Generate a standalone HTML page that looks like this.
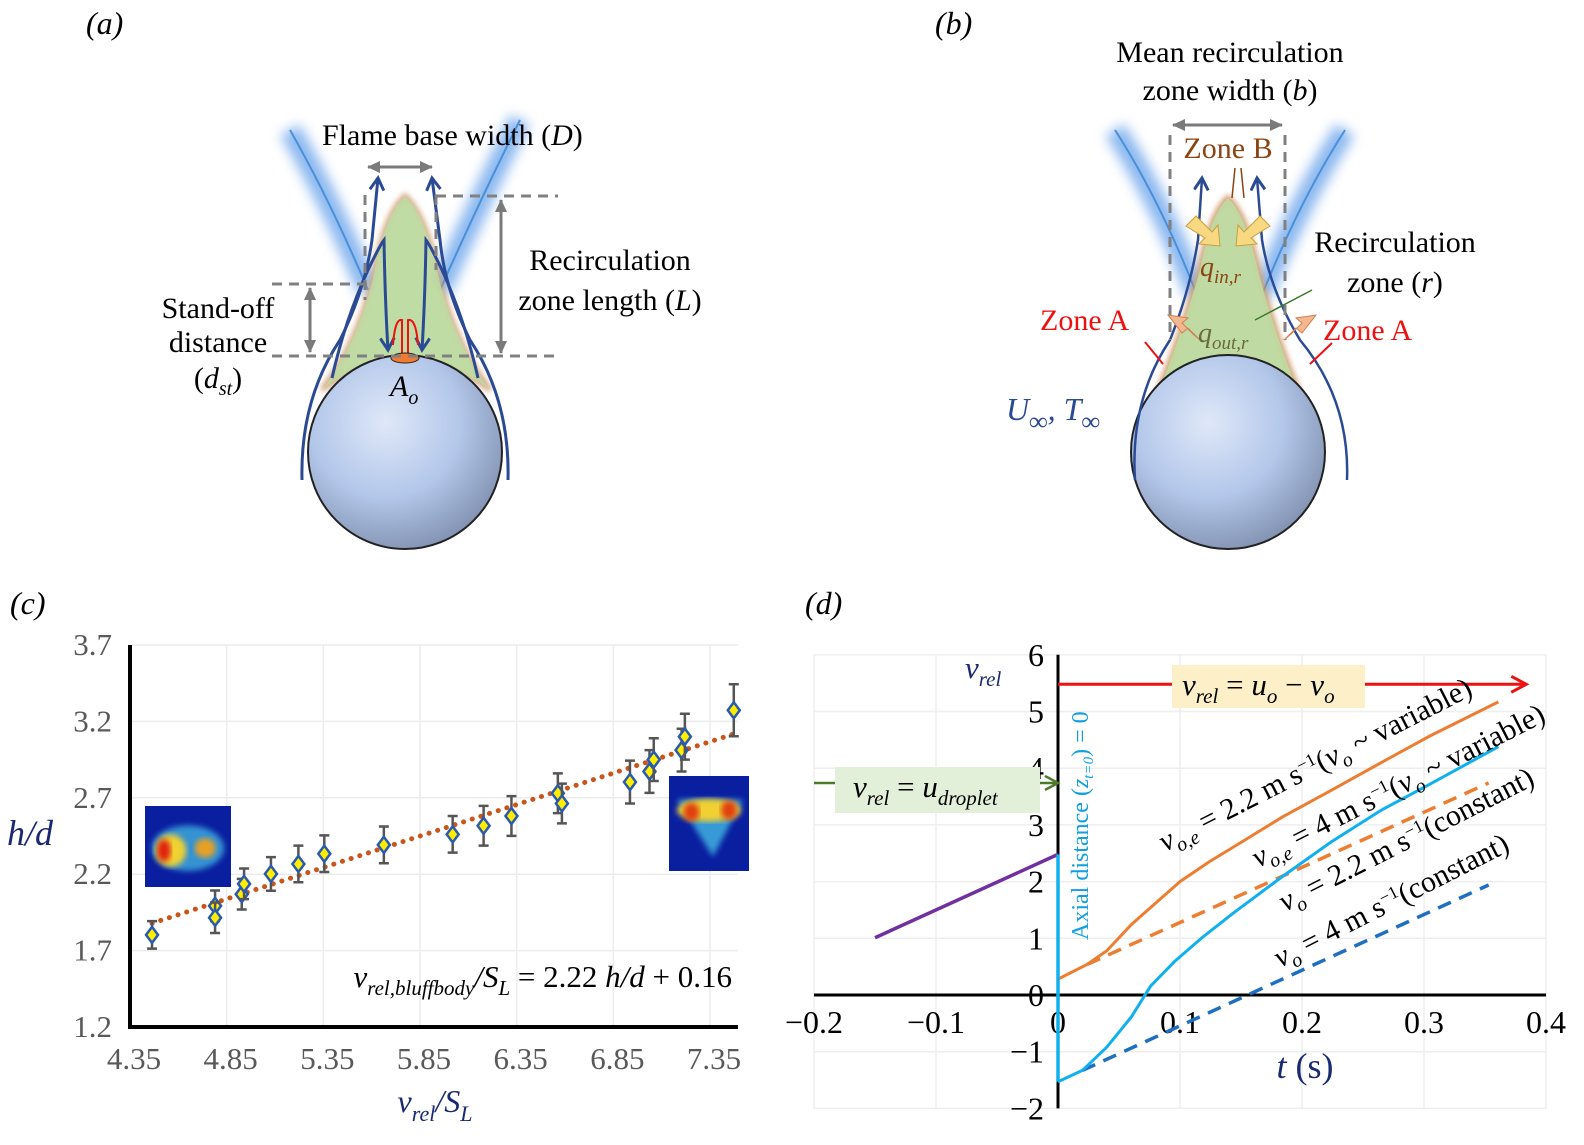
<!DOCTYPE html>
<html><head><meta charset="utf-8"><style>
body{margin:0;background:#fff;}
svg{display:block;}
svg text{font-family:"Liberation Serif","Times New Roman",serif;}
.it{font-style:italic}
</style></head><body>
<svg id="fig" width="1584" height="1145" viewBox="0 0 1584 1145" font-family="Liberation Serif, serif">
<defs>
<radialGradient id="sph" cx="0.4" cy="0.35" r="0.7">
<stop offset="0" stop-color="#dfe8f8"/><stop offset="0.55" stop-color="#b3c7ea"/><stop offset="1" stop-color="#7f8fae"/></radialGradient>
<filter id="blur" x="-50%" y="-50%" width="200%" height="200%"><feGaussianBlur stdDeviation="6"/></filter>
<filter id="blur2"><feGaussianBlur stdDeviation="3"/></filter>
<marker id="ah" markerUnits="userSpaceOnUse" markerWidth="16" markerHeight="16" refX="13" refY="8" orient="auto"><path d="M1,1 L13,8 L1,15" fill="none" stroke="#2b4a94" stroke-width="3"/></marker>
<marker id="ahg" markerUnits="userSpaceOnUse" markerWidth="14" markerHeight="14" refX="12" refY="7" orient="auto-start-reverse"><path d="M0,1 L13,7 L0,13 Z" fill="#7a7a7a"/></marker>
<marker id="ahr" markerUnits="userSpaceOnUse" markerWidth="20" markerHeight="20" refX="16" refY="10" orient="auto"><path d="M2,2 L17,10 L2,18" fill="none" stroke="#ee1111" stroke-width="3"/></marker>
<marker id="ahgr" markerUnits="userSpaceOnUse" markerWidth="18" markerHeight="18" refX="15" refY="9" orient="auto"><path d="M2,2 L15,9 L2,16" fill="none" stroke="#4a7a2a" stroke-width="2.5"/></marker>
</defs>

<!-- Panel a -->
<g>
<text x="86" y="34" font-size="32" class="it">(a)</text>
<path d="M290,130 Q330,200 368,290 M520,120 Q480,200 440,290" stroke="#7fb0ee" stroke-width="22" fill="none" filter="url(#blur)" opacity="0.9"/>
<path d="M290,130 Q330,200 368,290 M520,120 Q480,200 440,290" stroke="#4a90d8" stroke-width="2" fill="none"/>
<path d="M405,196 Q385,215 375,270 Q360,340 322,390 Q350,365 405,360 Q460,365 490,390 Q452,340 437,270 Q425,215 405,196Z" fill="#b8d89a" stroke="#c89060" stroke-width="5" opacity="0.85" filter="url(#blur2)"/>
<path d="M405,196 Q385,215 375,270 Q360,340 322,390 Q350,365 405,360 Q460,365 490,390 Q452,340 437,270 Q425,215 405,196Z" fill="#bfdca4" opacity="0.8"/>
<circle cx="405" cy="452" r="97" fill="url(#sph)" stroke="#222" stroke-width="2"/>
<path d="M302,480 Q300,400 340,340 Q365,290 372,240 L378,178" stroke="#2b4a94" stroke-width="3" fill="none" marker-end="url(#ah)"/>
<path d="M508,480 Q510,400 470,340 Q445,290 440,240 L432,178" stroke="#2b4a94" stroke-width="3" fill="none" marker-end="url(#ah)"/>
<path d="M332,378 Q345,320 368,270 Q380,245 384,240 Q385,300 388,350" stroke="#2b4a94" stroke-width="3" fill="none" marker-end="url(#ah)"/>
<path d="M478,378 Q465,320 442,270 Q430,245 426,240 Q425,300 422,350" stroke="#2b4a94" stroke-width="3" fill="none" marker-end="url(#ah)"/>
<path d="M402,358 L402,320 Q395,318 393,345 M408,358 L408,320 Q416,318 418,345" stroke="#ee1111" stroke-width="2" fill="none"/>
<ellipse cx="405" cy="358" rx="14" ry="5" fill="#f07a30" stroke="#222"/>
<path d="M365,205 V195 M436,205 V195 M365,195 V300 M436,195 V270 M436,196 H558 M272,284 H372 M272,356 H560" stroke="#808080" stroke-width="3" stroke-dasharray="10,7" fill="none"/>
<path d="M368,167 H432" stroke="#7a7a7a" stroke-width="3" marker-start="url(#ahg)" marker-end="url(#ahg)"/>
<path d="M501,200 V353" stroke="#7a7a7a" stroke-width="3" marker-start="url(#ahg)" marker-end="url(#ahg)"/>
<path d="M310,288 V352" stroke="#7a7a7a" stroke-width="3" marker-start="url(#ahg)" marker-end="url(#ahg)"/>
<text x="322" y="145" font-size="30">Flame base width (<tspan class="it">D</tspan>)</text>
<text x="610" y="270" font-size="30" text-anchor="middle">Recirculation</text>
<text x="610" y="310" font-size="30" text-anchor="middle">zone length (<tspan class="it">L</tspan>)</text>
<text x="218" y="318" font-size="30" text-anchor="middle">Stand-off</text>
<text x="218" y="352" font-size="30" text-anchor="middle">distance</text>
<text x="218" y="388" font-size="30" text-anchor="middle">(<tspan class="it">d</tspan><tspan class="it" font-size="20" dy="7">st</tspan><tspan dy="-7">)</tspan></text>
<text x="390" y="396" font-size="30" class="it">A<tspan font-size="20" dy="8">o</tspan></text>
</g>

<!-- Panel b -->
<g>
<text x="935" y="34" font-size="32" class="it">(b)</text>
<path d="M1115,130 Q1160,200 1197,295 M1345,130 Q1300,200 1262,295" stroke="#7fb0ee" stroke-width="22" fill="none" filter="url(#blur)" opacity="0.9"/>
<path d="M1115,130 Q1160,200 1197,295 M1345,130 Q1300,200 1262,295" stroke="#4a90d8" stroke-width="2" fill="none"/>
<path d="M1228,198 Q1210,215 1200,270 Q1180,340 1155,400 Q1180,360 1228,355 Q1276,360 1302,400 Q1276,340 1258,270 Q1246,215 1228,198Z" fill="#b8d89a" stroke="#d09060" stroke-width="5" filter="url(#blur2)"/>
<path d="M1228,198 Q1210,215 1200,270 Q1180,340 1155,400 Q1180,360 1228,355 Q1276,360 1302,400 Q1276,340 1258,270 Q1246,215 1228,198Z" fill="#bfdca4" opacity="0.85"/>
<circle cx="1228" cy="452" r="97" fill="url(#sph)" stroke="#222" stroke-width="2"/>
<path d="M1135,480 Q1130,400 1170,340 Q1190,290 1198,240 L1202,178" stroke="#2b4a94" stroke-width="2.5" fill="none" marker-end="url(#ah)"/>
<path d="M1347,480 Q1350,400 1300,340 Q1270,290 1262,240 L1257,178" stroke="#2b4a94" stroke-width="2.5" fill="none" marker-end="url(#ah)"/>
<path d="M1170,135 V340 M1285,135 V340" stroke="#808080" stroke-width="3" stroke-dasharray="10,7"/>
<path d="M1173,125 H1282" stroke="#7a7a7a" stroke-width="3" marker-start="url(#ahg)" marker-end="url(#ahg)"/>
<path d="M1186,226 L1196,216 L1212,232 L1218,225 L1220,246 L1199,244 L1205,238Z M1270,226 L1260,216 L1244,232 L1238,225 L1236,246 L1257,244 L1251,238Z" fill="#f8d880" stroke="#c8a040"/>
<path d="M1200,340 L1188,328 L1182,333 L1168,315 L1188,318 L1182,323 L1194,335Z M1284,340 L1296,328 L1302,333 L1316,315 L1296,318 L1302,323 L1290,335Z" fill="#f4b890" stroke="#d08050"/>
<path d="M1235,168 L1232,198 M1241,168 L1244,198" stroke="#8b4513" stroke-width="1.5"/>
<path d="M1312,290 L1255,320" stroke="#3a7a2a" stroke-width="1.5"/>
<path d="M1145,342 L1163,364 M1332,343 L1310,364" stroke="#ee1111" stroke-width="2"/>
<text x="1230" y="62" font-size="30" text-anchor="middle">Mean recirculation</text>
<text x="1230" y="100" font-size="30" text-anchor="middle">zone width (<tspan class="it">b</tspan>)</text>
<text x="1228" y="158" font-size="30" text-anchor="middle" fill="#8b4513">Zone B</text>
<text x="1395" y="252" font-size="30" text-anchor="middle">Recirculation</text>
<text x="1395" y="292" font-size="30" text-anchor="middle">zone (<tspan class="it">r</tspan>)</text>
<text x="1200" y="276" font-size="28" class="it" fill="#8b4513">q<tspan font-size="19" dy="7">in,r</tspan></text>
<text x="1198" y="342" font-size="28" class="it" fill="#6a6a3a">q<tspan font-size="19" dy="7">out,r</tspan></text>
<text x="1040" y="330" font-size="30" fill="#ee1111">Zone A</text>
<text x="1323" y="340" font-size="30" fill="#ee1111">Zone A</text>
<text x="1006" y="420" font-size="32" class="it" fill="#2b4a94">U<tspan font-size="26" dy="10">∞</tspan><tspan dy="-10">, T</tspan><tspan font-size="26" dy="10">∞</tspan></text>
</g>

<!-- Panel c -->
<g id="pc">
<text x="10" y="614" font-size="32" class="it">(c)</text>
</g>
<!-- Panel d -->
<g id="pd">
<text x="805" y="614" font-size="32" class="it">(d)</text>
</g>
</svg>
<script>
// ---------- Panel (c) data ----------
const cXTicks = [4.35, 4.85, 5.35, 5.85, 6.35, 6.85, 7.35];
const cYTicks = [1.2, 1.7, 2.2, 2.7, 3.2, 3.7];
const cX = [4.464, 4.79, 4.79, 4.928, 4.94, 5.079, 5.221, 5.355, 5.663, 6.019, 6.179, 6.323, 6.563, 6.584, 6.936, 7.037, 7.059, 7.203, 7.22, 7.473];
const cY = [1.803, 1.993, 1.915, 2.069, 2.137, 2.202, 2.267, 2.334, 2.392, 2.461, 2.517, 2.581, 2.73, 2.663, 2.803, 2.872, 2.95, 3.012, 3.10, 3.273];
const cErr = [0.09, 0.1, 0.1, 0.1, 0.1, 0.11, 0.12, 0.12, 0.12, 0.12, 0.13, 0.13, 0.13, 0.13, 0.14, 0.14, 0.14, 0.14, 0.15, 0.17];
const cFitX = [4.464, 7.473];
const cFitY = [1.879, 3.118];

// ---------- Panel (d) data ----------
const dXTicks = [-0.2, -0.1, 0, 0.1, 0.2, 0.3, 0.4];
const dXLabels = ["\u22120.2", "\u22120.1", "0", "0.1", "0.2", "0.3", "0.4"];
const dYTicks = [-2, -1, 0, 1, 2, 3, 4, 5, 6];
const dYLabels = ["\u22122", "\u22121", "0", "1", "2", "3", "4", "5", "6"];
const purpleT = [-0.15, 0];
const purpleV = [1.01, 2.48];
const orangeT = [0, 0.024, 0.04, 0.06, 0.08, 0.1, 0.124, 0.14, 0.184, 0.224, 0.265, 0.305, 0.361];
const orangeV = [0.28, 0.54, 0.78, 1.24, 1.62, 2.0, 2.35, 2.56, 3.14, 3.61, 4.10, 4.57, 5.17];
const orangeDashT = [0.024, 0.353];
const orangeDashV = [0.54, 3.74];
const blueT = [0, 0.02, 0.04, 0.06, 0.076, 0.096, 0.118, 0.144, 0.184, 0.224, 0.265, 0.305, 0.361];
const blueV = [-1.53, -1.33, -0.92, -0.39, 0.16, 0.60, 1.01, 1.45, 2.09, 2.70, 3.26, 3.72, 4.38];
const blueDashT = [0.02, 0.353];
const blueDashV = [-1.33, 1.94];
const axialLineV = [-1.53, 2.48];
const redArrowT = [0, 0.383];
const redArrowV = 5.48;
const greenArrowT = [-0.2, 0];
const greenArrowV = 3.74;

const NS = "http://www.w3.org/2000/svg";
function mk(parent, tag, attrs, text) {
  const e = document.createElementNS(NS, tag);
  for (const k in attrs) e.setAttribute(k, attrs[k]);
  if (text !== undefined) e.textContent = text;
  parent.appendChild(e);
  return e;
}

// ---- Panel c ----
const pc = document.getElementById('pc');
const cx = v => 130 + (v - 4.35) * (580 / 3);
const cy = v => 1027 - (v - 1.2) * (382 / 2.5);
cXTicks.forEach((t, i) => {
  const g = mk(pc, 'line', {x1: cx(t), x2: cx(t), y1: 645, y2: 1027, stroke: '#ececec', 'stroke-width': 1.5});
  
  
  const l = mk(pc, 'text', {x: cx(t) + 4, y: 1069, 'font-size': 31, 'text-anchor': 'middle', fill: '#595959'}, t.toFixed(2));
  
  
});
cYTicks.forEach(t => {
  const g = mk(pc, 'line', {x1: 130, x2: 738, y1: cy(t), y2: cy(t), stroke: '#ececec', 'stroke-width': 1.5});
  
  
  const l = mk(pc, 'text', {x: 112, y: cy(t) + 10, 'font-size': 31, 'text-anchor': 'end', fill: '#595959'}, t.toFixed(1));
  
  
});
const cax = mk(pc, 'path', {d: 'M130,645 V1027 H738', stroke: '#000', 'stroke-width': 4, fill: 'none'});


function heat(x, y, w, h, kind, name) {
  const g = mk(pc, 'g', {});
  
  
  mk(g, 'rect', {x, y, width: w, height: h, fill: '#0a1fa0'});
  if (kind === 0) {
    mk(g, 'ellipse', {cx: x + w * 0.5, cy: y + h * 0.52, rx: w * 0.42, ry: h * 0.28, fill: '#3fb0e0', opacity: 0.8, filter: 'url(#blur2)'});
    mk(g, 'ellipse', {cx: x + w * 0.3, cy: y + h * 0.55, rx: w * 0.18, ry: h * 0.2, fill: '#f0d030', filter: 'url(#blur2)'});
    mk(g, 'ellipse', {cx: x + w * 0.22, cy: y + h * 0.55, rx: w * 0.08, ry: h * 0.14, fill: '#e02010', filter: 'url(#blur2)'});
    mk(g, 'ellipse', {cx: x + w * 0.7, cy: y + h * 0.52, rx: w * 0.12, ry: h * 0.12, fill: '#e8a020', filter: 'url(#blur2)'});
  } else {
    mk(g, 'path', {d: `M${x + 8},${y + h * 0.25} L${x + w - 6},${y + h * 0.25} L${x + w * 0.55},${y + h * 0.85}Z`, fill: '#3fb0e0', opacity: 0.85, filter: 'url(#blur2)'});
    mk(g, 'ellipse', {cx: x + w * 0.5, cy: y + h * 0.36, rx: w * 0.4, ry: h * 0.12, fill: '#f0d030', filter: 'url(#blur2)'});
    mk(g, 'ellipse', {cx: x + w * 0.28, cy: y + h * 0.38, rx: w * 0.1, ry: h * 0.1, fill: '#e04010', filter: 'url(#blur2)'});
    mk(g, 'ellipse', {cx: x + w * 0.75, cy: y + h * 0.36, rx: w * 0.1, ry: h * 0.1, fill: '#e04010', filter: 'url(#blur2)'});
  }
}
heat(145, 806, 86, 81, 0, 'heatmap-inset-left');
heat(669, 776, 80, 95, 1, 'heatmap-inset-right');
const fit = mk(pc, 'line', {x1: cx(cFitX[0]), y1: cy(cFitY[0]), x2: cx(cFitX[1]), y2: cy(cFitY[1]), stroke: '#c8561a', 'stroke-width': 5, 'stroke-dasharray': '0.1,9', 'stroke-linecap': 'round'});


cX.forEach((x, i) => {
  const px = cx(x), py = cy(cY[i]), top = cy(cY[i] + cErr[i]), bot = cy(cY[i] - cErr[i]);
  const eb = mk(pc, 'path', {d: `M${px},${top} V${bot} M${px - 5},${top} H${px + 5} M${px - 5},${bot} H${px + 5}`, stroke: '#555', 'stroke-width': 2.5, fill: 'none'});
  
  
  const d = mk(pc, 'path', {d: `M${px},${py - 8} L${px + 6},${py} L${px},${py + 8} L${px - 6},${py}Z`, fill: '#ffee00', stroke: '#2a5ab0', 'stroke-width': 2.5});
  
  
});
const eq = mk(pc, 'text', {x: 732, y: 987, 'font-size': 31, 'text-anchor': 'end'});
eq.innerHTML = '<tspan font-style="italic">v</tspan><tspan font-style="italic" font-size="21" dy="8">rel,bluffbody</tspan><tspan dy="-8" font-style="italic">/S</tspan><tspan font-style="italic" font-size="21" dy="8">L</tspan><tspan dy="-8"> = 2.22 </tspan><tspan font-style="italic">h/d</tspan><tspan> + 0.16</tspan>';


const yt = mk(pc, 'text', {x: 30, y: 845, 'font-size': 36, 'text-anchor': 'middle', fill: '#1a2a70', 'font-style': 'italic'}, 'h/d');


const xt = mk(pc, 'text', {x: 435, y: 1112, 'font-size': 32, 'text-anchor': 'middle', fill: '#1a2a70', 'font-style': 'italic'});
xt.innerHTML = 'v<tspan font-size="22" dy="9">rel</tspan><tspan dy="-9">/S</tspan><tspan font-size="22" dy="9">L</tspan>';



// ---- Panel d ----
const pd = document.getElementById('pd');
const dx = t => 1058 + t * 1220;
const dy = v => 995 - v * 56.7;
dXTicks.forEach((t, i) => {
  const g = mk(pd, 'line', {x1: dx(t), x2: dx(t), y1: dy(6), y2: dy(-2), stroke: '#eeeeee', 'stroke-width': 1.5});
  
  
  const l = mk(pd, 'text', {x: dx(t), y: 1033, 'font-size': 32, 'text-anchor': 'middle'}, dXLabels[i]);
  
  
});
dYTicks.forEach((t, i) => {
  const g = mk(pd, 'line', {x1: dx(-0.2), x2: dx(0.4), y1: dy(t), y2: dy(t), stroke: '#eeeeee', 'stroke-width': 1.5});
  
  
  const l = mk(pd, 'text', {x: 1044, y: dy(t) + 11, 'font-size': 32, 'text-anchor': 'end'}, dYLabels[i]);
  
  
});
const dax = mk(pd, 'path', {d: `M${dx(-0.2)},${dy(0)} H${dx(0.4)} M${dx(0)},${dy(6)} V${dy(-2)}`, stroke: '#000', 'stroke-width': 3, fill: 'none'});


function poly(T, V, attrs, name) {
  const pts = T.map((t, i) => dx(t) + ',' + dy(V[i])).join(' ');
  const p = mk(pd, 'polyline', Object.assign({points: pts, fill: 'none'}, attrs));
  
  
}
poly(purpleT, purpleV, {stroke: '#7030a0', 'stroke-width': 3.5}, 'purple-line');
poly(orangeDashT, orangeDashV, {stroke: '#ed7d31', 'stroke-width': 3.5, 'stroke-dasharray': '14,9'}, 'orange-dashed-line');
poly(blueDashT, blueDashV, {stroke: '#1f6fc0', 'stroke-width': 3.5, 'stroke-dasharray': '14,9'}, 'blue-dashed-line');
poly(orangeT, orangeV, {stroke: '#ed7d31', 'stroke-width': 3}, 'orange-solid-line');
poly(blueT, blueV, {stroke: '#10b0ee', 'stroke-width': 3}, 'blue-solid-line');
poly([0, 0], axialLineV, {stroke: '#10b0ee', 'stroke-width': 3.5}, 'axial-line');
const ra = mk(pd, 'line', {x1: dx(redArrowT[0]), x2: dx(redArrowT[1]), y1: dy(redArrowV), y2: dy(redArrowV), stroke: '#ee1111', 'stroke-width': 3, 'marker-end': 'url(#ahr)'});


const ga = mk(pd, 'line', {x1: dx(greenArrowT[0]), x2: dx(greenArrowT[1]), y1: dy(greenArrowV), y2: dy(greenArrowV), stroke: '#4a7a2a', 'stroke-width': 2.5, 'marker-end': 'url(#ahgr)'});


const rb = mk(pd, 'rect', {x: 1172, y: 665, width: 193, height: 43, fill: '#fdf0c8'});


const rt = mk(pd, 'text', {x: 1182, y: 695, 'font-size': 31, 'font-style': 'italic'});
rt.innerHTML = 'v<tspan font-size="21" dy="8">rel</tspan><tspan dy="-8" font-style="normal"> = </tspan>u<tspan font-size="21" dy="8">o</tspan><tspan dy="-8" font-style="normal"> − </tspan>v<tspan font-size="21" dy="8">o</tspan>';


const gb = mk(pd, 'rect', {x: 835, y: 767, width: 205, height: 46, fill: '#e2efd9'});


const gt = mk(pd, 'text', {x: 853, y: 797, 'font-size': 31, 'font-style': 'italic'});
gt.innerHTML = 'v<tspan font-size="21" dy="8">rel</tspan><tspan dy="-8" font-style="normal"> = </tspan>u<tspan font-size="21" dy="8">droplet</tspan>';


const vr = mk(pd, 'text', {x: 965, y: 678, 'font-size': 31, 'font-style': 'italic', fill: '#1a2a70'});
vr.innerHTML = 'v<tspan font-size="21" dy="8">rel</tspan>';


const tt = mk(pd, 'text', {x: 1305, y: 1078, 'font-size': 36, 'text-anchor': 'middle', fill: '#1a2a70'});
tt.innerHTML = '<tspan font-style="italic">t</tspan> (s)';


const ax = mk(pd, 'text', {x: 0, y: 0, 'font-size': 24, fill: '#10a0e0', transform: 'translate(1088,940) rotate(-90)'});
ax.innerHTML = 'Axial distance (<tspan font-style="italic">z</tspan><tspan font-size="15" dy="5" font-style="italic">t=0</tspan><tspan dy="-5">) = 0</tspan>';


function rlab(x, y, html, name) {
  const t = mk(pd, 'text', {x: 0, y: 0, 'font-size': 30, transform: `translate(${x},${y}) rotate(-27)`});
  t.innerHTML = html;
  
  
}
rlab(1165, 852, '<tspan font-style="italic">v</tspan><tspan font-style="italic" font-size="20" dy="7">o,e</tspan><tspan dy="-7"> = 2.2 m s</tspan><tspan font-size="18" dy="-10">−1</tspan><tspan dy="10">(</tspan><tspan font-style="italic">v</tspan><tspan font-style="italic" font-size="20" dy="7">o</tspan><tspan dy="-7"> ~ variable)</tspan>', 'label-orange-variable');
rlab(1258, 868, '<tspan font-style="italic">v</tspan><tspan font-style="italic" font-size="20" dy="7">o,e</tspan><tspan dy="-7"> = 4 m s</tspan><tspan font-size="18" dy="-10">−1</tspan><tspan dy="10">(</tspan><tspan font-style="italic">v</tspan><tspan font-style="italic" font-size="20" dy="7">o</tspan><tspan dy="-7"> ~ variable)</tspan>', 'label-blue-variable');
rlab(1285, 912, '<tspan font-style="italic">v</tspan><tspan font-style="italic" font-size="20" dy="7">o</tspan><tspan dy="-7"> = 2.2 m s</tspan><tspan font-size="18" dy="-10">−1</tspan><tspan dy="10">(constant)</tspan>', 'label-orange-constant');
rlab(1280, 968, '<tspan font-style="italic">v</tspan><tspan font-style="italic" font-size="20" dy="7">o</tspan><tspan dy="-7"> = 4 m s</tspan><tspan font-size="18" dy="-10">−1</tspan><tspan dy="10">(constant)</tspan>', 'label-blue-constant');
</script>
</body></html>
